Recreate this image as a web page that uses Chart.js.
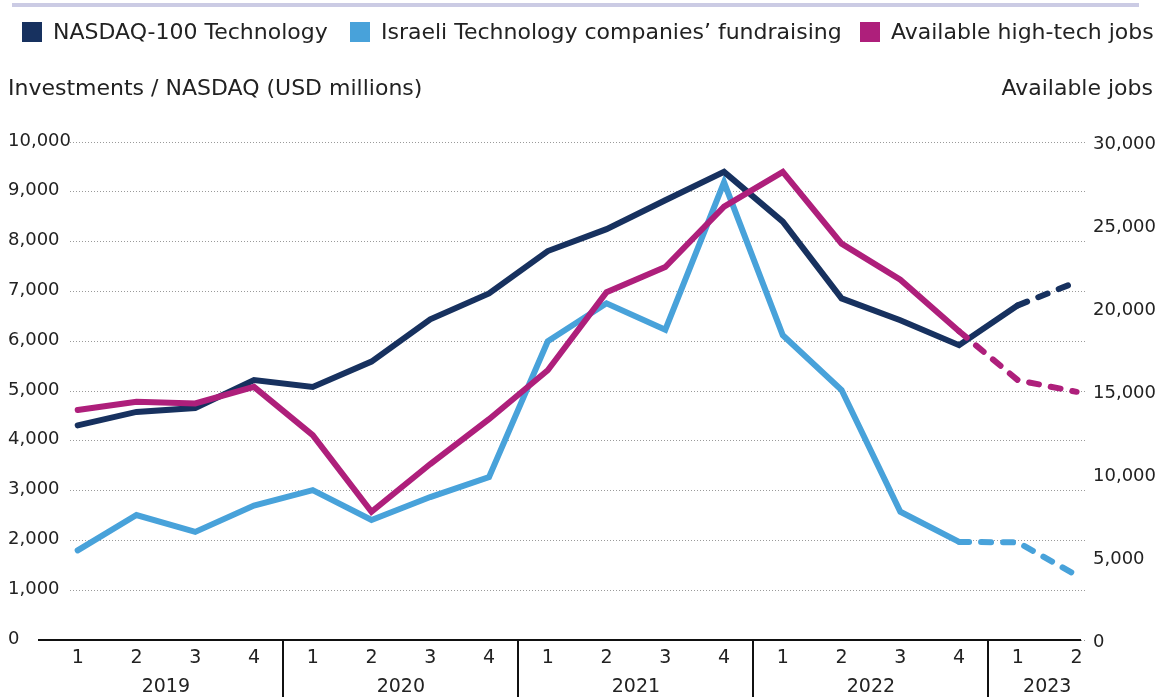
<!DOCTYPE html>
<html>
<head>
<meta charset="utf-8">
<script src="https://cdn.jsdelivr.net/npm/chart.js@4.4.0/dist/chart.umd.min.js"></script>
<style>
  html, body { margin: 0; padding: 0; background: #fff; }
  #wrap { width: 1158px; height: 697px; position: relative; }
</style>
</head>
<body>
<div id="wrap"><canvas id="c" width="1158" height="697"></canvas></div>
<script>
// ---- data ----
const quarterLabels = ['1','2','3','4','1','2','3','4','1','2','3','4','1','2','3','4','1','2'];
const yearLabels = ['2019','2020','2021','2022','2023'];
const quartersPerYear = [4, 4, 4, 4, 2];
const nasdaq = [4310,4580,4660,5220,5080,5590,6440,6960,7810,8250,8830,9400,8400,6860,6420,5920,6720,7190];
const fundraising = [1800,2510,2170,2700,3010,2410,2870,3270,6000,6760,6230,9190,6120,5020,2575,1970,1960,1300];
const jobs = [13850,14350,14250,15250,12340,7720,10600,13300,16250,20950,22470,26100,28200,23880,21700,18600,15650,14950];
const seriesNames = ['NASDAQ-100 Technology', 'Israeli Technology companies\u2019 fundraising', 'Available high-tech jobs'];
const projectedFrom = [16, 15, 15]; // index where the dashed (projected) part starts
const leftTitle = 'Investments / NASDAQ (USD millions)';
const rightTitle = 'Available jobs';

const COLORS = ['#17315f', '#48a2da', '#ae1f7b'];
const FONT = '"DejaVu Sans"';
const TEXT = '#222222';

function pts(arr) { return arr.map((v, i) => ({x: i, y: v})); }
function dashFrom(start) {
  return { borderDash: ctx => (ctx.p0DataIndex >= start ? [10, 12] : undefined) };
}

const decor = {
  id: 'decor',
  beforeDraw(chart) {
    const c = chart.ctx;
    c.save();
    c.fillStyle = '#cbcbe4';
    c.fillRect(12, 3, 1127, 4);
    c.restore();
  },
  afterDraw(chart) {
    const c = chart.ctx;
    const xs = chart.scales.x, ys = chart.scales.y;
    const area = chart.chartArea;
    const y0 = ys.getPixelForValue(0);
    c.save();
    // axis line
    c.strokeStyle = '#111';
    c.lineWidth = 2;
    c.beginPath();
    c.moveTo(area.left - 32, y0);
    c.lineTo(area.right - 5, y0);
    c.stroke();
    // year separators + labels
    let start = 0;
    c.fillStyle = TEXT;
    c.font = '19px ' + FONT;
    c.textAlign = 'center';
    c.textBaseline = 'middle';
    quartersPerYear.forEach((n, k) => {
      const end = start + n - 1;
      const cx = xs.getPixelForValue((start + end) / 2);
      c.fillText(yearLabels[k], cx, 687);
      if (k < quartersPerYear.length - 1) {
        const sx = Math.round(xs.getPixelForValue(end + 0.5));
        c.beginPath();
        c.moveTo(sx, y0);
        c.lineTo(sx, chart.height);
        c.stroke();
      }
      start += n;
    });
    // legend
    const boxX = [22, 350, 860];
    c.font = '22px ' + FONT;
    c.textAlign = 'left';
    chart.data.datasets.forEach((ds, i) => {
      c.fillStyle = ds.borderColor;
      c.fillRect(boxX[i], 22, 20, 20);
      c.fillStyle = TEXT;
      c.fillText(ds.label, boxX[i] + 31, 33);
    });
    // axis titles
    c.fillText(leftTitle, 8, 89);
    c.textAlign = 'right';
    c.fillText(rightTitle, 1153, 89);
    c.restore();
  }
};

new Chart(document.getElementById('c'), {
  type: 'line',
  data: {
    datasets: [
      { label: seriesNames[0], data: pts(nasdaq), yAxisID: 'y', borderColor: COLORS[0], backgroundColor: COLORS[0], order: 1, segment: dashFrom(projectedFrom[0]) },
      { label: seriesNames[1], data: pts(fundraising), yAxisID: 'y', borderColor: COLORS[1], backgroundColor: COLORS[1], order: 2, segment: dashFrom(projectedFrom[1]) },
      { label: seriesNames[2], data: pts(jobs), yAxisID: 'y1', borderColor: COLORS[2], backgroundColor: COLORS[2], order: 0, segment: dashFrom(projectedFrom[2]) }
    ]
  },
  options: {
    responsive: false,
    animation: false,
    events: [],
    layout: { padding: { top: 142, left: 8, right: 0, bottom: 0 } },
    elements: {
      line: { borderWidth: 6, tension: 0, borderCapStyle: 'round', borderJoinStyle: 'miter', fill: false },
      point: { radius: 0, hoverRadius: 0 }
    },
    plugins: { legend: { display: false }, tooltip: { enabled: false } },
    scales: {
      x: {
        type: 'linear',
        min: -0.131,
        max: 17.16,
        afterBuildTicks: s => { s.ticks = quarterLabels.map((_, i) => ({ value: i })); },
        afterFit: s => { s.height = 57; },
        grid: { display: false, drawTicks: false },
        border: { display: false },
        ticks: {
          autoSkip: false, maxRotation: 0, padding: 7,
          color: TEXT, font: { family: FONT, size: 19 },
          callback: (v, i) => quarterLabels[i]
        }
      },
      y: {
        position: 'left',
        min: 0, max: 10000,
        afterFit: s => { s.width = 62; },
        grid: { color: '#9a9a9a', lineWidth: 1, drawTicks: false },
        border: { display: false, dash: [1, 2] },
        ticks: {
          stepSize: 1000, crossAlign: 'far', labelOffset: -1,
          color: TEXT, font: { family: FONT, size: 18 },
          callback: v => v.toLocaleString('en-US')
        }
      },
      y1: {
        position: 'right',
        min: 0, max: 30000,
        afterFit: s => { s.width = 72; },
        grid: { display: false, drawTicks: false },
        border: { display: false },
        ticks: {
          stepSize: 5000, padding: 7, crossAlign: 'near', labelOffset: 2,
          color: TEXT, font: { family: FONT, size: 18 },
          callback: v => v.toLocaleString('en-US')
        }
      }
    }
  },
  plugins: [decor]
});
</script>
</body>
</html>
